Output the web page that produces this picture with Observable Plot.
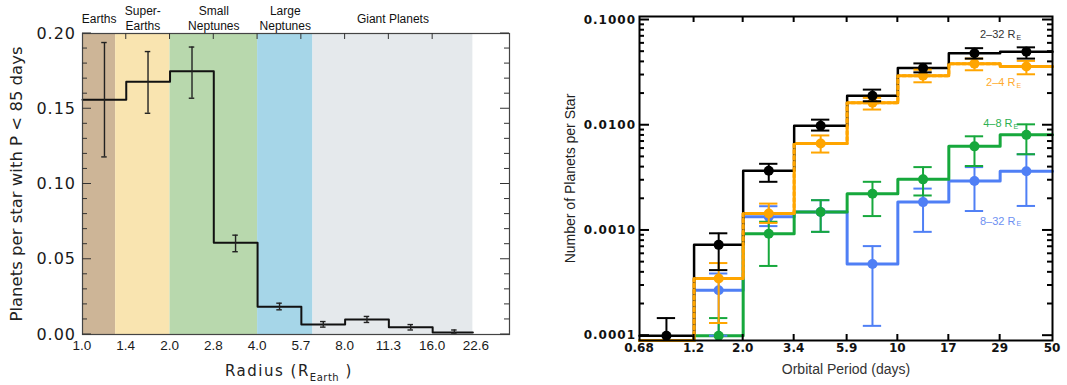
<!DOCTYPE html>
<html><head><meta charset="utf-8">
<script src="https://cdn.jsdelivr.net/npm/d3@7"></script>
<script src="https://cdn.jsdelivr.net/npm/@observablehq/plot@0.6"></script>
<style>
html,body{margin:0;padding:0;background:#fff;}
#wrap{position:relative;width:1067px;height:385px;overflow:hidden;background:#fff;}
#left,#right{position:absolute;top:0;}
#left{left:0;} #right{left:540px;}
#xtitle{position:absolute;left:225px;top:364px;font-family:"DejaVu Sans";font-size:15px;letter-spacing:1.5px;color:#222;line-height:15px;white-space:nowrap;}
#xtitle sub{font-size:10px;vertical-align:-5px;line-height:0;letter-spacing:0.5px;}
</style></head>
<body><div id="wrap"><div id="left"></div><div id="right"></div><div id="xtitle">Radius (R<sub>Earth</sub> )</div></div>
<script>
// ---------- Left panel data: occurrence vs radius ----------
const radiusEdges = [1, 1.414, 2, 2.828, 4, 5.657, 8, 11.31, 16, 22];
const radiusCenters = [1.19, 1.68, 2.38, 3.36, 4.76, 6.73, 9.51, 13.45, 19.0];
const occurrence = [0.156, 0.168, 0.175, 0.061, 0.0185, 0.0066, 0.0100, 0.0049, 0.0013];
const occLow = [0.118, 0.147, 0.157, 0.055, 0.0164, 0.0049, 0.0080, 0.0030, 0.0004];
const occHigh = [0.194, 0.188, 0.191, 0.066, 0.0208, 0.0086, 0.0120, 0.0066, 0.0030];
const radiusTicks = [1, 1.414, 2, 2.828, 4, 5.657, 8, 11.31, 16, 22.63];
const radiusTickLabels = ["1.0", "1.4", "2.0", "2.8", "4.0", "5.7", "8.0", "11.3", "16.0", "22.6"];
const occTicks = [0, 0.05, 0.10, 0.15, 0.20];
const occTickLabels = ["0.00", "0.05", "0.10", "0.15", "0.20"];
const occMinorTicks = [0.01, 0.02, 0.03, 0.04, 0.06, 0.07, 0.08, 0.09, 0.11, 0.12, 0.13, 0.14, 0.16, 0.17, 0.18, 0.19];
const classNames = ["Earths", "Super-\nEarths", "Small\nNeptunes", "Large\nNeptunes", "Giant Planets"];
const classFrom = [1, 1.3, 2, 4, 6.2];
const classTo = [1.3, 2, 4, 6.2, 22];
const classColors = ["#cdb597", "#f9e4b0", "#b8d8ad", "#a6d6e8", "#e5e9ec"];
const leftYLabel = "Planets per star with P < 85 days";

// ---------- Right panel data: planets per star vs period ----------
const periodEdges = [0.68, 1.2, 2.0, 3.4, 5.9, 10, 17, 29, 50];
const periodCenters = [0.90, 1.55, 2.61, 4.48, 7.68, 13.0, 22.2, 38.1];
const periodTickLabels = ["0.68", "1.2", "2.0", "3.4", "5.9", "10", "17", "29", "50"];
const rateTicks = [0.0001, 0.001, 0.01, 0.1];
const rateTickLabels = ["0.0001", "0.0010", "0.0100", "0.1000"];
const rateMinorTicks = [0.0002, 0.0003, 0.0004, 0.0005, 0.0006, 0.0007, 0.0008, 0.0009,
  0.002, 0.003, 0.004, 0.005, 0.006, 0.007, 0.008, 0.009,
  0.02, 0.03, 0.04, 0.05, 0.06, 0.07, 0.08, 0.09];
// null = no planets in bin (drawn at the axis floor)
const rateAll = [0.0001, 0.00073, 0.0037, 0.0099, 0.0191, 0.0349, 0.0484, 0.050];
const rateAllLo = [null, 0.00042, 0.0029, 0.0089, 0.0169, 0.0318, 0.043, 0.043];
const rateAllHi = [0.000147, 0.00094, 0.0043, 0.0113, 0.0218, 0.0387, 0.054, 0.055];
const rate2to4 = [null, 0.00035, 0.00145, 0.0067, 0.0164, 0.0296, 0.0385, 0.0362];
const rate2to4Lo = [null, 0.000132, 0.00118, 0.0055, 0.0141, 0.0256, 0.0333, 0.0305];
const rate2to4Hi = [null, 0.00049, 0.0018, 0.0080, 0.0182, 0.0337, 0.043, 0.0409];
const rate4to8 = [null, 0.0001, 0.00093, 0.0015, 0.00223, 0.00306, 0.0063, 0.0081];
const rate4to8Lo = [null, null, 0.00046, 0.00097, 0.00137, 0.00215, 0.0041, 0.0053];
const rate4to8Hi = [null, 0.000147, 0.00121, 0.00194, 0.0029, 0.0040, 0.00785, 0.0102];
const rate8to32 = [null, 0.00027, 0.00135, 0.0015, 0.00048, 0.00186, 0.00295, 0.00366];
const rate8to32Lo = [null, 0.0001, 0.0011, 0.00097, 0.000124, 0.00097, 0.00153, 0.00171];
const rate8to32Hi = [null, 0.00039, 0.0017, 0.00194, 0.00071, 0.0025, 0.0040, 0.0053];
const seriesLabels = ["2–32 R", "2–4 R", "4–8 R", "8–32 R"];
const seriesColors = ["#000000", "#ffa500", "#16a83c", "#4f7ff5"];
const seriesLabelColors = ["#333333", "#ffab2e", "#2cb050", "#6d90f2"];
const seriesLabelX = [34, 34, 33, 34];
const seriesLabelY = [0.073, 0.0256, 0.0104, 0.00123];
const rightYLabel = "Number of Planets per Star";
const rightXLabel = "Orbital Period (days)";

// axis decoration drawn with d3 using the plot's own scales
function decorate(svg, m, o) {
  const sx = svg.scale("x"), sy = svg.scale("y");
  const W = +svg.getAttribute("width"), H = +svg.getAttribute("height");
  const L = m.left, R = W - m.right, T = m.top, B = H - m.bottom;
  const g = d3.select(svg).append("g").attr("stroke", o.stroke).attr("stroke-width", o.sw);
  const tickY = (vals, len) => vals.forEach(v => {
    const y = sy.apply(v);
    g.append("line").attr("x1", L).attr("x2", L + len).attr("y1", y).attr("y2", y);
    g.append("line").attr("x1", R).attr("x2", R - len).attr("y1", y).attr("y2", y);
  });
  tickY(o.yMajor, o.yMajorLen); tickY(o.yMinor, o.yMinorLen);
  o.xTop.forEach(v => { const x = sx.apply(v); g.append("line").attr("x1", x).attr("x2", x).attr("y1", T).attr("y2", T + o.xLen); });
  o.xBottom.forEach(v => { const x = sx.apply(v); g.append("line").attr("x1", x).attr("x2", x).attr("y1", B).attr("y2", B - o.xLen); });
  const t = d3.select(svg).append("g").attr("fill", o.textFill);
  o.yLabels.forEach((s, i) => {
    t.append("text").attr("x", L - o.yPad).attr("y", sy.apply(o.yMajor[i])).attr("dy", "0.35em")
      .attr("text-anchor", "end").attr("font-family", o.yFont).attr("font-size", o.ySize)
      .attr("font-weight", o.weight).attr("letter-spacing", o.yLS).text(s);
  });
  o.xLabels.forEach((s, i) => {
    t.append("text").attr("x", sx.apply(o.xVals[i])).attr("y", B + o.xPad).attr("dy", "0.71em")
      .attr("text-anchor", "middle").attr("font-family", o.xFont).attr("font-size", o.xSize)
      .attr("font-weight", o.weight).text(s);
  });
}

// ================= LEFT PANEL =================
const mL = {left: 82, right: 31, top: 33, bottom: 51};
const bands = classNames.map((name, i) => ({name, x1: classFrom[i], x2: classTo[i], fill: classColors[i]}));
const histPts = radiusEdges.map((e, i) => ({x: e, y: occurrence[Math.min(i, occurrence.length - 1)]}));
const occRows = radiusCenters.map((c, i) => ({c, v: occurrence[i], lo: occLow[i], hi: occHigh[i]}));

const left = Plot.plot({
  width: 540, height: 385,
  marginLeft: mL.left, marginRight: mL.right, marginTop: mL.top, marginBottom: mL.bottom,
  style: {background: "none", overflow: "visible"},
  x: {type: "log", base: 2, domain: [1, 29.4], axis: null},
  y: {domain: [0, 0.2], axis: null},
  color: {type: "identity"},
  marks: [
    Plot.rect(bands, {x1: "x1", x2: "x2", y1: 0, y2: 0.2, fill: "fill"}),
    Plot.line(histPts, {x: "x", y: "y", curve: "step-after", stroke: "#111", strokeWidth: 2}),
    Plot.ruleX(occRows, {x: "c", y1: "lo", y2: "hi", stroke: "#222", strokeWidth: 1.4}),
    Plot.ruleY(occRows, {y: "lo", x1: d => d.c / 1.022, x2: d => d.c * 1.022, stroke: "#222", strokeWidth: 1.4}),
    Plot.ruleY(occRows, {y: "hi", x1: d => d.c / 1.022, x2: d => d.c * 1.022, stroke: "#222", strokeWidth: 1.4}),
    Plot.frame({stroke: "#444", strokeWidth: 1.2}),
    Plot.text(bands, {x: d => Math.sqrt(d.x1 * d.x2), text: "name", frameAnchor: "top", dy: -16,
      lineAnchor: "middle", lineHeight: 1.3, fontSize: 12, fontFamily: "Liberation Sans", fill: "#111"}),
    Plot.text([leftYLabel], {text: d => d, frameAnchor: "left", textAnchor: "middle", lineAnchor: "middle",
      rotate: -90, dx: -66, fontSize: 16.5, fontFamily: "DejaVu Sans", fill: "#222"})
  ]
});
decorate(left, mL, {
  stroke: "#333", sw: 1, yMajor: occTicks, yMajorLen: 9, yMinor: occMinorTicks, yMinorLen: 5,
  xTop: radiusTicks.slice(1, -1), xBottom: [], xLen: 6,
  yLabels: occTickLabels, yPad: 6, yFont: "DejaVu Sans", ySize: 16, yLS: 1,
  xLabels: radiusTickLabels, xVals: radiusTicks, xPad: 6, xFont: "Liberation Sans", xSize: 13.5,
  weight: "normal", textFill: "#1a1a1a"
});
document.getElementById("left").appendChild(left);

// ================= RIGHT PANEL =================
const mR = {left: 99, right: 15, top: 16, bottom: 45};
const floor = 0.00009;
const series = [
  {v: rate8to32, lo: rate8to32Lo, hi: rate8to32Hi, color: seriesColors[3]},
  {v: rate4to8, lo: rate4to8Lo, hi: rate4to8Hi, color: seriesColors[2]},
  {v: rate2to4, lo: rate2to4Lo, hi: rate2to4Hi, color: seriesColors[1]},
  {v: rateAll, lo: rateAllLo, hi: rateAllHi, color: seriesColors[0]}
];
const [sBlue, sGreen, sOrange, sBlack] = series;
const stepPts = vals => periodEdges.map((e, i) => ({x: e, y: vals[Math.min(i, vals.length - 1)] ?? floor}));
const lineOf = (s, opts) => Plot.line(stepPts(s.v), {x: "x", y: "y", curve: "step-after", stroke: s.color, ...opts});
const capK = 1.1;
function errMarks(s) {
  const rows = periodCenters.map((c, i) => ({c, v: s.v[i], lo: s.lo[i], hi: s.hi[i]})).filter(d => d.v != null);
  return [
    Plot.ruleX(rows, {x: "c", y1: d => d.lo ?? floor, y2: "hi", stroke: s.color, strokeWidth: 2}),
    Plot.ruleY(rows.filter(d => d.lo != null), {y: "lo", x1: d => d.c / capK, x2: d => d.c * capK, stroke: s.color, strokeWidth: 2}),
    Plot.ruleY(rows.filter(d => d.hi != null), {y: "hi", x1: d => d.c / capK, x2: d => d.c * capK, stroke: s.color, strokeWidth: 2}),
    Plot.dot(rows, {x: "c", y: "v", r: 5, fill: s.color, stroke: "none"})
  ];
}
const labelRows = seriesLabels.map((t, i) => ({t, x: seriesLabelX[i], y: seriesLabelY[i], color: seriesLabelColors[i]}));

const right = Plot.plot({
  width: 527, height: 385,
  marginLeft: mR.left, marginRight: mR.right, marginTop: mR.top, marginBottom: mR.bottom,
  style: {background: "none", overflow: "visible"},
  x: {type: "log", domain: [0.68, 50], axis: null},
  y: {type: "log", domain: [floor, 0.108], axis: null},
  color: {type: "identity"},
  marks: [
    lineOf(sBlue, {strokeWidth: 3}),
    lineOf(sGreen, {strokeWidth: 3}),
    lineOf(sOrange, {strokeWidth: 3}),
    lineOf(sBlack, {strokeWidth: 2.5}),
    lineOf(sOrange, {strokeWidth: 3, strokeDasharray: "3,3"}),
    ...errMarks(sBlue),
    ...errMarks(sGreen),
    ...errMarks(sOrange),
    ...errMarks(sBlack),
    Plot.frame({stroke: "#000", strokeWidth: 2}),
    Plot.text(labelRows, {x: "x", y: "y", text: "t", fill: "color", textAnchor: "end",
      fontSize: 11, fontFamily: "Liberation Sans"}),
    Plot.text(labelRows, {x: "x", y: "y", text: () => "E", fill: "color", textAnchor: "start",
      dx: 1, dy: 3, fontSize: 7, fontFamily: "Liberation Sans"}),
    Plot.text([rightYLabel], {text: d => d, frameAnchor: "left", textAnchor: "middle", lineAnchor: "middle",
      rotate: -90, dx: -69, fontSize: 14, fontFamily: "Liberation Sans", fill: "#222"}),
    Plot.text([rightXLabel], {text: d => d, frameAnchor: "bottom", textAnchor: "middle", lineAnchor: "middle",
      dy: 29, fontSize: 14, fontFamily: "Liberation Sans", fill: "#333"})
  ]
});
decorate(right, mR, {
  stroke: "#000", sw: 2, yMajor: rateTicks, yMajorLen: 10, yMinor: rateMinorTicks, yMinorLen: 5,
  xTop: periodEdges.slice(1, -1), xBottom: periodEdges.slice(1, -1), xLen: 6,
  yLabels: rateTickLabels, yPad: 3, yFont: "DejaVu Sans", ySize: 12, yLS: 1,
  xLabels: periodTickLabels, xVals: periodEdges, xPad: 3, xFont: "DejaVu Sans", xSize: 12,
  weight: "bold", textFill: "#111"
});
document.getElementById("right").appendChild(right);
</script></body></html>
